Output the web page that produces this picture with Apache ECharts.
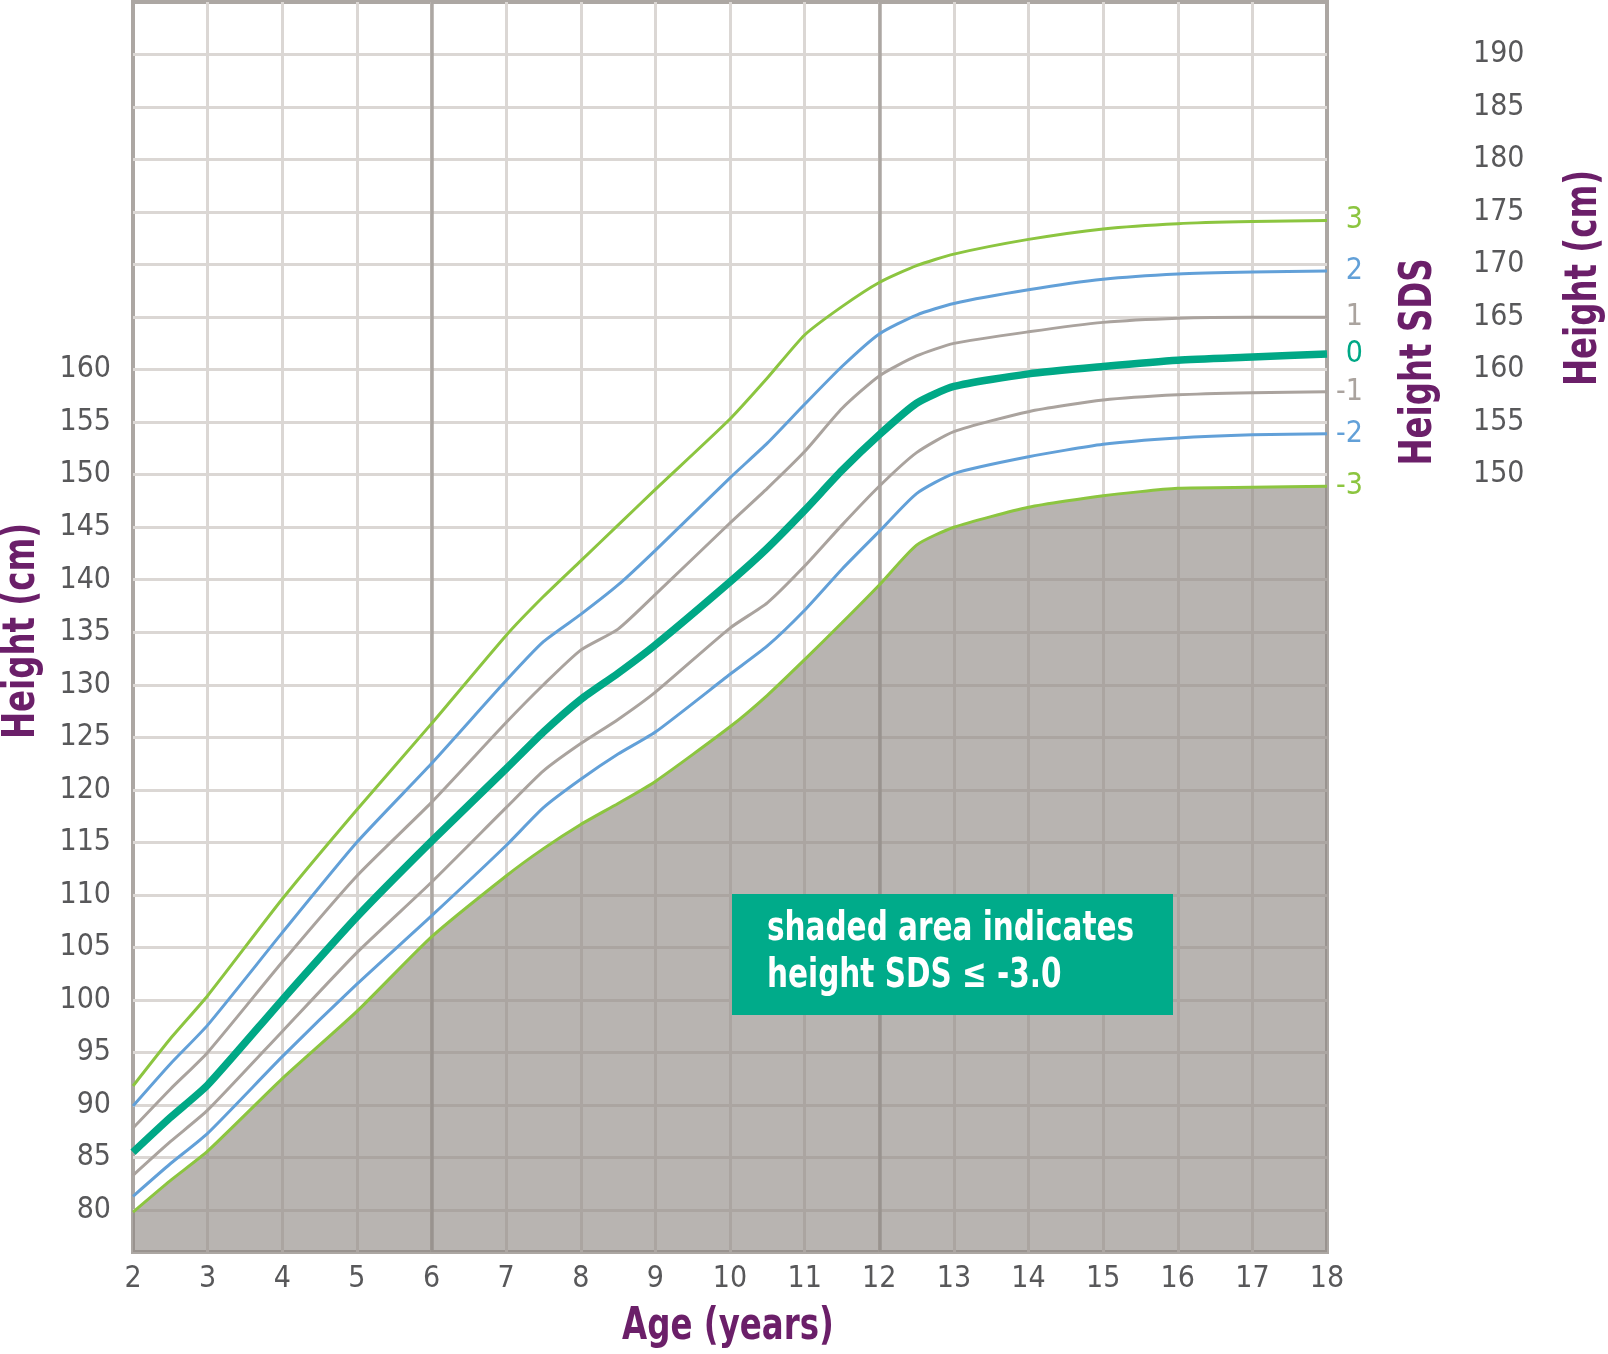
<!DOCTYPE html>
<html>
<head>
<meta charset="utf-8">
<title>Height SDS chart</title>
<script src="https://cdn.jsdelivr.net/npm/echarts@6/dist/echarts.min.js"></script>
<style>
html, body { margin: 0; padding: 0; background: #fff; }
#container { width: 1608px; height: 1354px; }
</style>
</head>
<body>
<div id="container"></div>
<script>
var ages = [2, 2.5, 3, 4, 5, 6, 7, 7.5, 8, 8.5, 9, 10, 10.5, 11, 11.5, 12, 12.5, 13, 14, 15, 16, 17, 18];

// height (cm) per SDS curve
var sdsPlus3  = [91.8, 96.3, 100.4, 109.6, 118.1, 126.3, 134.7, 138.4, 141.8, 145.2, 148.6, 155.3, 159.2, 163.3, 166.0, 168.3, 169.9, 171.0, 172.4, 173.4, 173.9, 174.1, 174.2];
var sdsPlus2  = [89.9, 93.9, 97.6, 106.4, 115.0, 122.5, 130.4, 134.1, 136.7, 139.5, 142.8, 149.7, 153.0, 156.7, 160.3, 163.4, 165.2, 166.3, 167.6, 168.6, 169.1, 169.3, 169.4];
var sdsPlus1  = [87.8, 91.5, 95.0, 103.6, 111.8, 118.8, 126.4, 130.0, 133.3, 135.3, 138.6, 145.4, 148.7, 152.2, 156.3, 159.4, 161.3, 162.5, 163.6, 164.5, 164.9, 165.0, 165.0];
var sdsZero   = [85.5, 88.8, 91.9, 100.0, 107.9, 115.1, 122.0, 125.5, 128.6, 131.1, 133.8, 139.8, 143.0, 146.6, 150.4, 153.8, 156.8, 158.4, 159.6, 160.3, 160.9, 161.2, 161.5];
var sdsMinus1 = [83.3, 86.5, 89.5, 97.0, 104.5, 111.2, 118.3, 121.8, 124.4, 126.7, 129.3, 135.4, 137.8, 141.3, 145.2, 148.9, 152.1, 154.1, 156.0, 157.1, 157.6, 157.8, 157.9];
var sdsMinus2 = [81.3, 84.4, 87.3, 94.6, 101.5, 108.0, 114.7, 118.3, 121.0, 123.4, 125.5, 131.0, 133.7, 137.1, 141.0, 144.6, 148.2, 150.1, 151.7, 152.9, 153.5, 153.8, 153.9];
var sdsMinus3 = [79.8, 82.8, 85.6, 92.5, 98.9, 106.0, 111.8, 114.4, 116.7, 118.7, 120.8, 126.0, 129.0, 132.4, 135.9, 139.5, 143.3, 145.0, 146.9, 148.0, 148.7, 148.8, 148.9];

// tick labels
var leftTicks = [80, 85, 90, 95, 100, 105, 110, 115, 120, 125, 130, 135, 140, 145, 150, 155, 160];
var rightTicks = [150, 155, 160, 165, 170, 175, 180, 185, 190];
var gridHeights = [80, 85, 90, 95, 100, 105, 110, 115, 120, 125, 130, 135, 140, 145, 150, 155, 160, 165, 170, 175, 180, 185, 190];
var markedAges = [6, 12];

var FONT = "'Liberation Sans Narrow', 'DejaVu Sans Condensed', Roboto, sans-serif";
var GREEN = '#8cc540';
var BLUE = '#62a0d8';
var GREY = '#aaa39e';
var TEAL = '#00a886';
var PURPLE = '#6b1f69';
var LABEL = '#58585a';
var GRID = '#dbd7d4';
var DARK = '#aca7a3';

function pairs(values) {
    return ages.map(function(a, i) {
        return [a, values[i]];
    });
}

var curves = [
    { name: '3',  values: sdsPlus3,  color: GREEN, width: 3 },
    { name: '2',  values: sdsPlus2,  color: BLUE,  width: 3 },
    { name: '1',  values: sdsPlus1,  color: GREY,  width: 3 },
    { name: '0',  values: sdsZero,   color: TEAL,  width: 7.5 },
    { name: '-1', values: sdsMinus1, color: GREY,  width: 3 },
    { name: '-2', values: sdsMinus2, color: BLUE,  width: 3 },
    { name: '-3', values: sdsMinus3, color: GREEN, width: 3 }
];

var series = curves.map(function(c) {
    var s = {
        name: c.name,
        type: 'line',
        data: pairs(c.values),
        showSymbol: false,
        smooth: 0.2,
        z: c.name === '0' ? 5 : 3,
        lineStyle: { color: c.color, width: c.width },
        endLabel: {
            show: true,
            formatter: c.name,
            color: c.color,
            fontSize: 30,
            fontFamily: FONT,
            align: 'right',
            distance: 36
        }
    };
    if (c.name === '-3') {
        s.z = 2;
        s.areaStyle = { color: 'rgba(142,136,131,0.63)', origin: 'start', opacity: 1 };
        // grid lines sit under the shaded area
        s.markLine = {
            silent: true,
            symbol: 'none',
            z: 1,
            animation: false,
            label: { show: false },
            lineStyle: { color: GRID, width: 3, type: 'solid' },
            data: gridHeights.map(function(h) {
                return { yAxis: h };
            }).concat(markedAges.map(function(a) {
                return { xAxis: a, lineStyle: { color: DARK, width: 3.5, type: 'solid' } };
            }))
        };
    }
    return s;
});

// condensed look: squeeze the bold titles along the reading direction
function titleText(text, x, y, rotate) {
    return {
        type: 'text',
        x: x,
        y: y,
        rotation: rotate ? Math.PI / 2 : 0,
        scaleX: 0.82,
        z: 100,
        style: {
            text: text,
            fill: PURPLE,
            font: 'bold 44px ' + FONT,
            align: 'center',
            verticalAlign: 'middle',
            textAlign: 'center',
            textVerticalAlign: 'middle'
        }
    };
}

var dom = document.getElementById('container');
var myChart = echarts.init(dom);

var option = {
    backgroundColor: '#ffffff',
    animation: false,
    grid: {
        left: 133,
        right: 281,
        top: 2,
        bottom: 102,
        show: true,
        backgroundColor: '#ffffff',
        borderColor: DARK,
        borderWidth: 4,
        outerBoundsMode: 'none'
    },
    xAxis: {
        type: 'value',
        min: 2,
        max: 18,
        interval: 1,
        axisLine: { show: false },
        axisTick: { show: false },
        axisLabel: { margin: 12, fontSize: 30, color: LABEL, fontFamily: FONT },
        splitLine: {
            show: true,
            showMinLine: false,
            showMaxLine: false,
            lineStyle: { color: GRID, width: 3 }
        }
    },
    yAxis: [{
        type: 'value',
        position: 'left',
        min: 76,
        max: 195,
        interval: 1,
        axisLine: { show: false },
        axisTick: { show: false },
        splitLine: { show: false },
        axisLabel: {
            margin: 22,
            fontSize: 30,
            color: LABEL,
            fontFamily: FONT,
            formatter: function(v) {
                return leftTicks.indexOf(Math.round(v)) >= 0 && Math.abs(v - Math.round(v)) < 1e-6 ? String(Math.round(v)) : '';
            }
        }
    }, {
        type: 'value',
        position: 'right',
        min: 76,
        max: 195,
        interval: 1,
        axisLine: { show: false },
        axisTick: { show: false },
        splitLine: { show: false },
        axisLabel: {
            margin: 146,
            fontSize: 30,
            color: LABEL,
            fontFamily: FONT,
            formatter: function(v) {
                return rightTicks.indexOf(Math.round(v)) >= 0 && Math.abs(v - Math.round(v)) < 1e-6 ? String(Math.round(v)) : '';
            }
        }
    }],
    series: series,
    graphic: [
        titleText('Height (cm)', 23, 631, true),
        titleText('Age (years)', 728, 1328, false),
        titleText('Height SDS', 1420, 362, true),
        titleText('Height (cm)', 1585, 278, true),
        {
            type: 'group',
            z: 100,
            children: [{
                type: 'rect',
                z: 100,
                shape: { x: 732, y: 894, width: 441, height: 121 },
                style: { fill: '#00ab8a' }
            }, {
                type: 'text',
                z: 101,
                x: 767,
                y: 953,
                scaleX: 0.8,
                style: {
                    text: 'shaded area indicates\nheight SDS \u2264 -3.0',
                    fill: '#ffffff',
                    font: 'bold 41px ' + FONT,
                    lineHeight: 47,
                    align: 'left',
                    verticalAlign: 'middle',
                    textAlign: 'left',
                    textVerticalAlign: 'middle'
                }
            }]
        }
    ]
};

if (option && typeof option === "object") {
    myChart.setOption(option, true);
}
</script>
</body>
</html>
